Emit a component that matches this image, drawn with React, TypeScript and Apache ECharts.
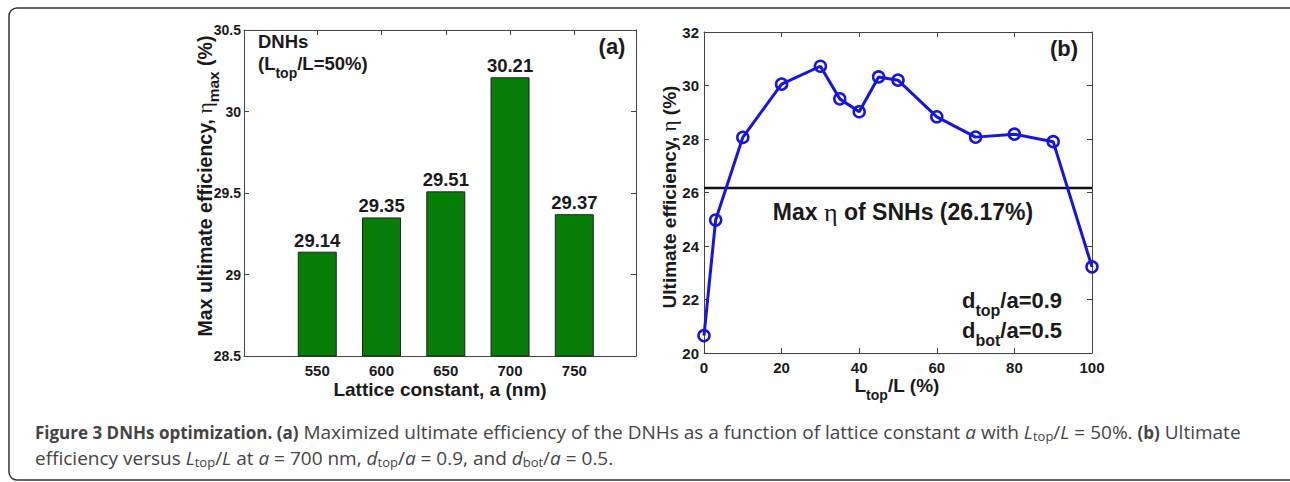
import React, { useEffect, useRef } from "react";
import * as echarts from "echarts";

// ---- data ----
const latticeConstants = [550, 600, 650, 700, 750];
const maxEfficiency = [29.14, 29.35, 29.51, 30.21, 29.37];
const ltopRatio = [0, 3, 10, 20, 30, 35, 40, 45, 50, 60, 70, 80, 90, 100];
const ultimateEfficiency = [20.65, 24.97, 28.06, 30.05, 30.72, 29.5, 29.02, 30.32, 30.2, 28.83, 28.07, 28.18, 27.9, 23.22];
const snhMax = 26.17;
const leftXTicks = [550, 600, 650, 700, 750];

const SANS = "Liberation Sans, Arial, sans-serif";
const SERIF = "Liberation Serif, Times New Roman, serif";
const CAP = "Open Sans, Noto Sans, sans-serif";
const AX = "#444";
const TXT = "#1a1a1a";

function axisCommon() {
  return {
    axisLine: { show: true, onZero: false, lineStyle: { color: AX, width: 1 } },
    axisTick: { show: true, inside: true, length: 5, lineStyle: { color: AX, width: 1 } },
    splitLine: { show: false },
  };
}
const labelStyle = { fontFamily: SANS, fontWeight: "bold", fontSize: 15, color: TXT };

function txt(x: number, y: number, text: string, extra: any = {}, rich: any = undefined, rotation = 0) {
  const style: any = {
    text,
    fontFamily: SANS,
    fontWeight: "bold",
    fontSize: 19,
    fill: TXT,
    textAlign: "left",
    textVerticalAlign: "middle",
    align: "left",
    verticalAlign: "middle",
    ...extra,
  };
  if (extra.textAlign) style.align = extra.textAlign;
  if (rich) style.rich = rich;
  return { type: "text", x, y, rotation, style, z: 100 };
}

export default function App() {
  const ref = useRef<HTMLDivElement>(null);
  useEffect(() => {
    if (!ref.current) return;
    const chart = echarts.init(ref.current, undefined, { renderer: "svg" });

    const subRich = (size: number, pad: number, lh: number, main = 19) => ({
      s: { fontFamily: SANS, fontWeight: "bold", fontSize: size, fill: TXT, color: TXT, padding: [pad, 0, 0, 0], lineHeight: lh },
      n: { fontFamily: SANS, fontWeight: "bold", fontSize: main, fill: TXT, color: TXT, lineHeight: lh },
      e: { fontFamily: SERIF, fontWeight: "normal", fontSize: main + 2, fill: TXT, color: TXT, lineHeight: lh },
    });

    const capRich = {
      b: { fontFamily: CAP, fontWeight: "bold", fontSize: 17, color: "#111", lineHeight: 22 },
      i: { fontFamily: CAP, fontStyle: "italic", fontSize: 19, color: "#444", lineHeight: 22 },
      s: { fontFamily: CAP, fontSize: 13, color: "#444", padding: [8, 0, 0, 0], lineHeight: 22 },
    };
    const capStyle = { fontFamily: CAP, fontWeight: "normal", fontSize: 19, fill: "#444", lineHeight: 22 };

    chart.setOption({
      animation: false,
      backgroundColor: "#fff",
      grid: [
        { left: 244, top: 30, width: 392, height: 326 },
        { left: 704, top: 32, width: 388, height: 321 },
      ],
      xAxis: [
        {
          type: "value", gridIndex: 0, position: "bottom", min: 493, max: 798,
          ...axisCommon(),
          axisTick: { ...axisCommon().axisTick, customValues: leftXTicks },
          axisLabel: { ...labelStyle, margin: 7, customValues: leftXTicks },
        },
        {
          type: "value", gridIndex: 0, position: "top", min: 493, max: 798,
          ...axisCommon(),
          axisTick: { ...axisCommon().axisTick, customValues: leftXTicks },
          axisLabel: { show: false },
        },
        {
          type: "value", gridIndex: 1, position: "bottom", min: 0, max: 100, interval: 20,
          ...axisCommon(),
          axisLabel: { ...labelStyle, margin: 7 },
        },
        {
          type: "value", gridIndex: 1, position: "top", min: 0, max: 100, interval: 20,
          ...axisCommon(),
          axisLabel: { show: false },
        },
      ],
      yAxis: [
        {
          type: "value", gridIndex: 0, position: "left", min: 28.5, max: 30.5, interval: 0.5,
          ...axisCommon(),
          axisLabel: { ...labelStyle, fontSize: 14, margin: 3 },
        },
        {
          type: "value", gridIndex: 0, position: "right", min: 28.5, max: 30.5, interval: 0.5,
          ...axisCommon(),
          axisLabel: { show: false },
        },
        {
          type: "value", gridIndex: 1, position: "left", min: 20, max: 32, interval: 2,
          ...axisCommon(),
          axisLabel: { ...labelStyle, margin: 5 },
        },
        {
          type: "value", gridIndex: 1, position: "right", min: 20, max: 32, interval: 2,
          ...axisCommon(),
          axisLabel: { show: false },
        },
      ],
      series: [
        {
          type: "bar",
          xAxisIndex: 0,
          yAxisIndex: 0,
          barWidth: 39,
          clip: true,
          data: latticeConstants.map((a, i) => [a, maxEfficiency[i]]),
          itemStyle: { color: "#067d06", borderColor: "#222", borderWidth: 1 },
          label: {
            show: true,
            position: "top",
            distance: 2,
            fontFamily: SANS,
            fontWeight: "bold",
            fontSize: 18.5,
            color: TXT,
            formatter: (p: any) => p.value[1].toFixed(2),
          },
        },
        {
          type: "line",
          xAxisIndex: 2,
          yAxisIndex: 2,
          data: [[0, snhMax], [100, snhMax]],
          symbol: "none",
          lineStyle: { color: "#111", width: 2.5 },
          z: 2,
        },
        {
          type: "line",
          xAxisIndex: 2,
          yAxisIndex: 2,
          data: ltopRatio.map((x, i) => [x, ultimateEfficiency[i]]),
          symbol: "circle",
          symbolSize: 11,
          lineStyle: { color: "#1414e6", width: 3 },
          itemStyle: { color: "rgba(0,0,0,0)", borderColor: "#1414e6", borderWidth: 2.5 },
          z: 3,
        },
      ],
      graphic: [
        {
          type: "rect",
          shape: { x: 9, y: 8, width: 1300, height: 472, r: 8 },
          style: { fill: "none", stroke: "#333", lineWidth: 1.5 },
          z: 0,
        },
        // panel (a) annotations
        txt(258, 41, "DNHs", { fontSize: 18.5, lineHeight: 18 }),
        txt(258, 63, "(L{s|top}/L=50%)", { fontSize: 18.5, lineHeight: 16 }, subRich(14, 20, 16, 18.5)),
        txt(612, 46, "(a)", { fontSize: 22, textAlign: "center" }),
        txt(205, 186, "Max ultimate efficiency, {e|η}{s|max} (%)", { fontSize: 19.5, textAlign: "center", lineHeight: 24 }, subRich(15.5, 16, 24, 19.5), Math.PI / 2),
        txt(440, 389, "Lattice constant, a (nm)", { textAlign: "center" }),
        // panel (b) annotations
        txt(1064, 48, "(b)", { fontSize: 22, textAlign: "center" }),
        txt(903, 212, "Max {e|η} of SNHs (26.17%)", { fontSize: 23, textAlign: "center" }, {
          e: { fontFamily: SERIF, fontWeight: "normal", fontSize: 26, fill: TXT, color: TXT },
        }),
        txt(962, 300, "d{s|top}/a=0.9", { fontSize: 22, lineHeight: 24 }, subRich(16, 20, 24, 22)),
        txt(962, 330, "d{s|bot}/a=0.5", { fontSize: 22, lineHeight: 24 }, subRich(16, 20, 24, 22)),
        txt(669, 197, "Ultimate efficiency, {e|η} (%)", { textAlign: "center", lineHeight: 24 }, subRich(14, 16, 24), Math.PI / 2),
        txt(897, 385, "L{s|top}/L (%)", { textAlign: "center", lineHeight: 20 }, subRich(14, 20, 20)),
        // caption
        txt(
          35,
          432,
          "{b|Figure 3 DNHs optimization. (a)} Maximized ultimate efficiency of the DNHs as a function of lattice constant {i|a} with {i|L}{s|top}/{i|L} = 50%. {b|(b)} Ultimate",
          capStyle,
          capRich
        ),
        txt(
          35,
          458,
          "efficiency versus {i|L}{s|top}/{i|L} at {i|a} = 700 nm, {i|d}{s|top}/{i|a} = 0.9, and {i|d}{s|bot}/{i|a} = 0.5.",
          capStyle,
          capRich
        ),
      ],
    });
    return () => chart.dispose();
  }, []);
  return (
    <div
      ref={ref}
      style={{ position: "absolute", left: 0, top: 0, width: 1290, height: 482, background: "#fff" }}
    />
  );
}
